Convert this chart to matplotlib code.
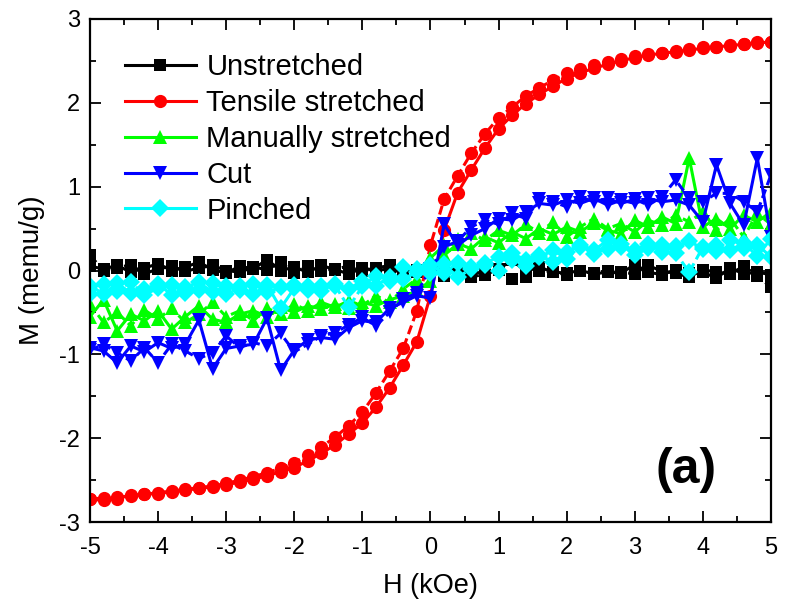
import matplotlib
matplotlib.use("Agg")
import matplotlib.pyplot as plt
from matplotlib.ticker import MultipleLocator

plt.rcParams['font.family'] = ['Liberation Sans', 'DejaVu Sans']
plt.rcParams['axes.unicode_minus'] = False

# field grid (kOe), same for both branches
H = [-5.0, -4.8, -4.6, -4.4, -4.2, -4.0, -3.8, -3.6, -3.4, -3.2,
     -3.0, -2.8, -2.6, -2.4, -2.2, -2.0, -1.8, -1.6, -1.4, -1.2,
     -1.0, -0.8, -0.6, -0.4, -0.2, 0.0, 0.2, 0.4, 0.6, 0.8,
     1.0, 1.2, 1.4, 1.6, 1.8, 2.0, 2.2, 2.4, 2.6, 2.8,
     3.0, 3.2, 3.4, 3.6, 3.8, 4.0, 4.2, 4.4, 4.6, 4.8, 5.0]

# M (memu/g): "up" = field sweep -5 -> 5 (solid), "down" = 5 -> -5 (dashed)
unstretched_up = [0.05, 0.02, 0.06, -0.02, 0.03, 0.08, 0.00, 0.04, 0.10, 0.01,
                  -0.03, 0.05, 0.02, 0.13, 0.00, 0.04, -0.02, 0.06, 0.01, -0.04,
                  0.03, 0.00, 0.02, -0.03, 0.01, 0.03, 0.05, -0.02, 0.00, -0.05,
                  0.02, 0.12, -0.01, 0.04, -0.02, -0.03, 0.00, -0.04, -0.02, -0.03,
                  0.07, -0.02, -0.05, 0.01, -0.03, -0.02, -0.09, 0.03, -0.04, -0.02, -0.05]
unstretched_down = [0.18, 0.00, 0.03, 0.07, -0.04, 0.02, 0.05, -0.01, 0.03, 0.06,
                    0.00, -0.02, 0.04, 0.01, 0.10, -0.03, 0.05, 0.00, 0.02, 0.05,
                    -0.01, 0.03, 0.06, 0.00, -0.02, 0.02, -0.06, 0.03, -0.08, -0.04,
                    0.01, -0.10, -0.08, 0.00, -0.02, -0.05, -0.01, -0.03, 0.00, -0.02,
                    -0.04, 0.06, -0.01, -0.03, -0.08, 0.01, -0.02, -0.04, 0.05, -0.06, -0.20]

tensile_up = [-2.73, -2.74, -2.70, -2.69, -2.67, -2.66, -2.64, -2.62, -2.60, -2.58,
              -2.56, -2.52, -2.49, -2.45, -2.40, -2.35, -2.27, -2.18, -2.08, -1.95,
              -1.82, -1.63, -1.40, -1.13, -0.85, -0.30, 0.48, 0.93, 1.20, 1.46,
              1.69, 1.85, 1.99, 2.10, 2.20, 2.29, 2.36, 2.41, 2.46, 2.50,
              2.54, 2.57, 2.59, 2.61, 2.63, 2.65, 2.67, 2.68, 2.70, 2.71, 2.73]
tensile_down = [-2.73, -2.71, -2.72, -2.68, -2.67, -2.65, -2.63, -2.61, -2.59, -2.57,
                -2.54, -2.50, -2.46, -2.41, -2.36, -2.29, -2.20, -2.10, -1.99, -1.85,
                -1.69, -1.46, -1.20, -0.93, -0.48, 0.30, 0.85, 1.13, 1.40, 1.63,
                1.82, 1.95, 2.08, 2.18, 2.27, 2.35, 2.40, 2.45, 2.49, 2.52,
                2.56, 2.58, 2.60, 2.62, 2.64, 2.66, 2.67, 2.69, 2.70, 2.72, 2.73]

manual_up = [-0.55, -0.35, -0.72, -0.52, -0.60, -0.48, -0.70, -0.55, -0.42, -0.58,
             -0.62, -0.52, -0.48, -0.55, -0.44, -0.50, -0.42, -0.46, -0.40, -0.45,
             -0.38, -0.42, -0.35, -0.30, -0.25, -0.12, 0.18, 0.32, 0.26, 0.40,
             0.33, 0.46, 0.38, 0.50, 0.43, 0.52, 0.46, 0.57, 0.48, 0.44,
             0.60, 0.52, 0.64, 0.56, 1.34, 0.52, 0.62, 0.50, 0.66, 0.58, 0.70]
manual_down = [-0.40, -0.62, -0.50, -0.66, -0.47, -0.58, -0.45, -0.62, -0.52, -0.38,
               -0.55, -0.48, -0.60, -0.45, -0.52, -0.40, -0.48, -0.38, -0.44, -0.36,
               -0.42, -0.30, -0.38, -0.22, -0.10, 0.15, 0.30, 0.38, 0.45, 0.36,
               0.48, 0.42, 0.55, 0.45, 0.58, 0.40, 0.52, 0.62, 0.50, 0.56,
               0.46, 0.60, 0.54, 0.66, 0.58, 0.70, 0.48, 0.62, 0.40, 0.68, 0.55]

cut_up = [-0.92, -0.96, -1.10, -0.90, -0.97, -0.86, -0.93, -0.88, -0.59, -1.17,
          -0.93, -0.90, -0.88, -0.57, -1.19, -0.95, -0.83, -0.80, -0.82, -0.68,
          -0.60, -0.62, -0.45, -0.38, -0.30, -0.33, 0.55, 0.30, 0.42, 0.50,
          0.62, 0.60, 0.70, 0.80, 0.78, 0.84, 0.80, 0.86, 0.78, 0.84,
          0.80, 0.86, 0.82, 0.84, 0.78, 0.58, 1.26, 0.80, 0.54, 1.34, 0.40]
cut_down = [-0.95, -0.88, -0.98, -1.08, -0.92, -1.10, -0.88, -0.96, -1.05, -0.98,
            -0.78, -0.92, -0.86, -0.90, -0.75, -0.97, -0.88, -0.78, -0.74, -0.65,
            -0.56, -0.66, -0.50, -0.34, -0.27, 0.02, 0.28, 0.35, 0.52, 0.60,
            0.55, 0.68, 0.62, 0.85, 0.82, 0.76, 0.88, 0.82, 0.86, 0.80,
            0.85, 0.78, 0.88, 1.08, 0.86, 0.82, 0.92, 0.92, 0.82, 0.70, 1.14]

pinched_up = [-0.18, -0.28, -0.15, -0.27, -0.22, -0.16, -0.29, -0.20, -0.14, -0.26,
              -0.18, -0.23, -0.28, -0.17, -0.45, -0.21, -0.19, -0.24, -0.16, -0.22,
              -0.12, -0.18, -0.08, -0.10, -0.02, 0.06, -0.03, 0.09, 0.04, 0.09,
              0.16, 0.21, 0.12, 0.18, 0.10, 0.22, 0.30, 0.24, 0.36, 0.28,
              0.25, 0.32, 0.22, 0.29, 0.35, 0.26, 0.30, 0.24, 0.33, 0.17, 0.38]
pinched_down = [-0.28, -0.16, -0.24, -0.14, -0.29, -0.21, -0.17, -0.27, -0.23, -0.15,
                -0.28, -0.19, -0.16, -0.26, -0.20, -0.17, -0.23, -0.18, -0.18, -0.44,
                -0.19, -0.06, -0.12, 0.04, 0.02, -0.03, 0.08, -0.08, 0.02, 0.06,
                0.00, 0.13, 0.05, 0.16, 0.24, 0.14, 0.28, 0.20, 0.26, 0.32,
                0.18, 0.27, 0.31, 0.21, -0.02, 0.28, 0.23, 0.36, 0.27, 0.31, 0.16]

series = [
    ("Unstretched", unstretched_up, unstretched_down, "#000000", "s", 8.5),
    ("Tensile stretched", tensile_up, tensile_down, "#FF0000", "o", 9.5),
    ("Manually stretched", manual_up, manual_down, "#00FF00", "^", 10.5),
    ("Cut", cut_up, cut_down, "#0000FF", "v", 10.5),
    ("Pinched", pinched_up, pinched_down, "#00FFFF", "D", 9),
]

fig = plt.figure(figsize=(7.85, 6.12), dpi=100)
ax = fig.add_axes([0.1146, 0.147, 0.8675, 0.822])

for name, up, down, color, mk, ms in series:
    ax.plot(H, up, color=color, marker=mk, markersize=ms, lw=2.2,
            markeredgewidth=0, label=name)
    ax.plot(H, down, color=color, marker=mk, markersize=ms, lw=2.2,
            markeredgewidth=0, dashes=(3, 1.5))

ax.set_xlim(-5, 5)
ax.set_ylim(-3, 3)
ax.xaxis.set_major_locator(MultipleLocator(1))
ax.xaxis.set_minor_locator(MultipleLocator(0.5))
ax.yaxis.set_major_locator(MultipleLocator(1))
ax.yaxis.set_minor_locator(MultipleLocator(0.5))
ax.tick_params(which='both', direction='in', top=True, right=True, width=1.3)
ax.tick_params(which='major', length=8, labelsize=17, pad=7)
ax.tick_params(axis='x', which='major', pad=11)
ax.tick_params(which='minor', length=4)
for sp in ax.spines.values():
    sp.set_linewidth(1.6)

ax.set_xlabel("H (kOe)", fontsize=19.5, labelpad=10)
ax.set_ylabel("M (memu/g)", fontsize=20, labelpad=10)

ax.text(3.75, -2.38, "(a)", fontsize=36, fontweight='bold', ha='center', va='center')

leg = ax.legend(loc='upper left', frameon=False, fontsize=21, handlelength=2.45,
                handletextpad=0.35, labelspacing=0.27, borderaxespad=0, borderpad=0,
                bbox_to_anchor=(0.051, 0.932))

fig.savefig("out.png", dpi=100)
